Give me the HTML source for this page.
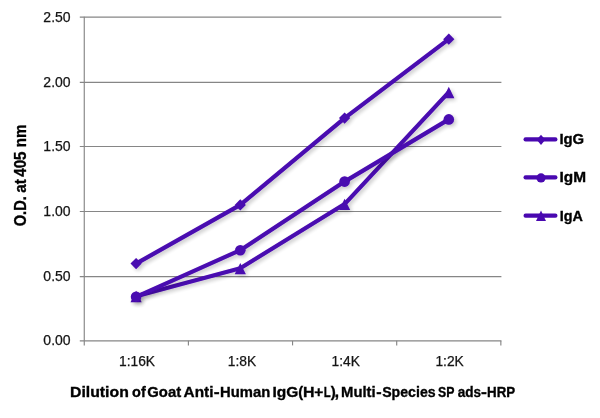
<!DOCTYPE html>
<html><head><meta charset="utf-8">
<style>
html,body{margin:0;padding:0;background:#fff;}
body{width:600px;height:418px;overflow:hidden;position:relative;font-family:"Liberation Sans",sans-serif;}
svg{position:absolute;left:0;top:0;display:block;}
text{font-family:"Liberation Sans",sans-serif;fill:#141414;stroke:#141414;stroke-width:0.25;}
</style></head><body>
<svg width="600" height="418" viewBox="0 0 600 418">
<defs>
<filter id="sh" filterUnits="userSpaceOnUse" x="100" y="0" width="400" height="340">
<feGaussianBlur in="SourceAlpha" stdDeviation="2.3"/>
<feOffset dx="2.3" dy="2.3" result="b"/>
<feComponentTransfer><feFuncA type="linear" slope="0.24"/></feComponentTransfer>
<feMerge><feMergeNode/><feMergeNode in="SourceGraphic"/></feMerge>
</filter>
</defs>
<rect width="600" height="418" fill="#fff"/>
<g opacity="0.999">
<g stroke="#868686" fill="none">
<line x1="79.8" y1="17.08" x2="501.4" y2="17.08" stroke-width="1.25"/>
<line x1="79.8" y1="82.33" x2="501.4" y2="82.33" stroke-width="1.1"/>
<line x1="79.8" y1="146.50" x2="501.4" y2="146.50" stroke-width="1.0"/>
<line x1="79.8" y1="211.50" x2="501.4" y2="211.50" stroke-width="1.0"/>
<line x1="79.8" y1="276.62" x2="501.4" y2="276.62" stroke-width="1.15"/>
<line x1="79.8" y1="340.85" x2="501.4" y2="340.85" stroke-width="1.4"/>
<line x1="84.27" y1="16.65" x2="84.27" y2="345.4" stroke-width="1.15"/>
<line x1="188.40" y1="340.85" x2="188.40" y2="345.4" stroke-width="1.15"/>
<line x1="292.55" y1="340.85" x2="292.55" y2="345.4" stroke-width="1.15"/>
<line x1="396.70" y1="340.85" x2="396.70" y2="345.4" stroke-width="1.15"/>
<line x1="500.85" y1="340.85" x2="500.85" y2="345.4" stroke-width="1.15"/>
</g>
<g font-size="14" text-anchor="end">
<text x="70.6" y="22.03">2.50</text>
<text x="70.6" y="86.68">2.00</text>
<text x="70.6" y="151.33">1.50</text>
<text x="70.6" y="215.98">1.00</text>
<text x="70.6" y="280.63">0.50</text>
<text x="70.6" y="345.28">0.00</text>
</g>
<g font-size="13.8" text-anchor="middle">
<text x="137.0" y="365.9">1:16K</text>
<text x="241.9" y="365.9">1:8K</text>
<text x="345.8" y="365.9">1:4K</text>
<text x="449.6" y="365.9">1:2K</text>
</g>
<g font-size="15" font-weight="bold" style="fill:#000;stroke:#000;stroke-width:0.35">
<text style="fill:#000;stroke:#000;stroke-width:0.35" transform="translate(70.05,396.9) scale(1.0530,1)">Dilution</text>
<text style="fill:#000;stroke:#000;stroke-width:0.35" transform="translate(132.12,396.9) scale(0.9673,1)">of</text>
<text style="fill:#000;stroke:#000;stroke-width:0.35" transform="translate(147.26,396.9) scale(0.9925,1)">Goat</text>
<text style="fill:#000;stroke:#000;stroke-width:0.35" transform="translate(183.59,396.9) scale(1.0255,1)">Anti</text>
<text style="fill:#000;stroke:#000;stroke-width:0.35" transform="translate(213.81,396.9) scale(1.1750,1)">-</text>
<text style="fill:#000;stroke:#000;stroke-width:0.35" transform="translate(220.11,396.9) scale(0.9857,1)">Human</text>
<text style="fill:#000;stroke:#000;stroke-width:0.35" transform="translate(272.47,396.9) scale(1.0348,1)">IgG</text>
<text style="fill:#000;stroke:#000;stroke-width:0.35" transform="translate(298.37,396.9) scale(0.9750,1)">(</text>
<text style="fill:#000;stroke:#000;stroke-width:0.35" transform="translate(302.94,396.9) scale(1.0629,1)">H</text>
<text style="fill:#000;stroke:#000;stroke-width:0.35" transform="translate(314.23,396.9) scale(1.0267,1)">+</text>
<text style="fill:#000;stroke:#000;stroke-width:0.35" transform="translate(323.64,396.9) scale(0.7613,1)">L</text>
<text style="fill:#000;stroke:#000;stroke-width:0.35" transform="translate(330.75,396.9) scale(1.0000,1)">)</text>
<text style="fill:#000;stroke:#000;stroke-width:0.35" transform="translate(334.59,396.9) scale(1.1111,1)">,</text>
<text style="fill:#000;stroke:#000;stroke-width:0.35" transform="translate(341.11,396.9) scale(0.9879,1)">Multi</text>
<text style="fill:#000;stroke:#000;stroke-width:0.35" transform="translate(376.26,396.9) scale(1.0750,1)">-</text>
<text style="fill:#000;stroke:#000;stroke-width:0.35" transform="translate(382.13,396.9) scale(0.9441,1)">Species</text>
<text style="fill:#000;stroke:#000;stroke-width:0.35" transform="translate(437.99,396.9) scale(0.8211,1)">SP</text>
<text style="fill:#000;stroke:#000;stroke-width:0.35" transform="translate(457.75,396.9) scale(0.9051,1)">ads</text>
<text style="fill:#000;stroke:#000;stroke-width:0.35" transform="translate(481.11,396.9) scale(1.1750,1)">-</text>
<text style="fill:#000;stroke:#000;stroke-width:0.35" transform="translate(487.01,396.9) scale(0.8893,1)">HRP</text>
</g>
<g font-size="15.6" font-weight="bold">
<text style="fill:#000;stroke:#000;stroke-width:0.35" transform="translate(25.5,226.30) rotate(-90) scale(0.9388,1)">O.D.</text>
<text style="fill:#000;stroke:#000;stroke-width:0.35" transform="translate(25.5,192.79) rotate(-90) scale(0.9736,1)">at</text>
<text style="fill:#000;stroke:#000;stroke-width:0.35" transform="translate(25.5,176.74) rotate(-90) scale(0.9663,1)">405</text>
<text style="fill:#000;stroke:#000;stroke-width:0.35" transform="translate(25.5,147.28) rotate(-90) scale(0.9767,1)">nm</text>
</g>
<g stroke="#4908b0" fill="#4908b0" stroke-width="4.15" stroke-linecap="round" stroke-linejoin="round">
<g filter="url(#sh)">
<polyline fill="none" points="136.1,296.2 240.3,268.3 344.6,204.1 448.8,92.2"/>
<g stroke="none">
<path d="M136.1,290.8 l5.6,11.4 h-11.2 z"/>
<path d="M240.3,262.9 l5.6,11.4 h-11.2 z"/>
<path d="M344.6,198.7 l5.6,11.4 h-11.2 z"/>
<path d="M448.8,86.8 l5.6,11.4 h-11.2 z"/>
</g>
</g>
<g filter="url(#sh)">
<polyline fill="none" points="136.1,296.8 240.3,250.2 344.6,181.6 448.8,119.4"/>
<g stroke="none">
<circle cx="136.1" cy="296.8" r="5.3"/>
<circle cx="240.3" cy="250.2" r="5.3"/>
<circle cx="344.6" cy="181.6" r="5.3"/>
<circle cx="448.8" cy="119.4" r="5.3"/>
</g>
</g>
<g filter="url(#sh)">
<polyline fill="none" points="136.1,263.6 240.3,204.9 344.6,118.1 448.8,39.2"/>
<g stroke="none">
<path d="M136.1,258.0 l5.6,5.6 -5.6,5.6 -5.6,-5.6 z"/>
<path d="M240.3,199.3 l5.6,5.6 -5.6,5.6 -5.6,-5.6 z"/>
<path d="M344.6,112.5 l5.6,5.6 -5.6,5.6 -5.6,-5.6 z"/>
<path d="M448.8,33.6 l5.6,5.6 -5.6,5.6 -5.6,-5.6 z"/>
</g>
</g>
</g>
<g stroke="#4908b0" fill="#4908b0" stroke-width="4.2" stroke-linecap="round">
<line x1="525.6" y1="139.4" x2="555.4" y2="139.4"/>
<line x1="525.6" y1="177.4" x2="555.4" y2="177.4"/>
<line x1="525.6" y1="215.7" x2="555.4" y2="215.7"/>
<g stroke="none">
<path d="M541,134.7 l4.3,5.1 -4.3,5.1 -4.3,-5.1z"/>
<circle cx="541" cy="177.9" r="4.6"/>
<path d="M541,210.6 l5,10.5 h-10z"/>
</g>
</g>
<g font-size="15" font-weight="bold">
<text style="fill:#000;stroke:#000;stroke-width:0.35" transform="translate(559.41,144.1) scale(0.9913,1)">IgG</text>
<text style="fill:#000;stroke:#000;stroke-width:0.35" transform="translate(559.57,182.3) scale(1.0274,1)">IgM</text>
<text style="fill:#000;stroke:#000;stroke-width:0.35" transform="translate(559.64,220.8) scale(0.9582,1)">IgA</text>
</g>
</g>
</svg>
</body></html>
